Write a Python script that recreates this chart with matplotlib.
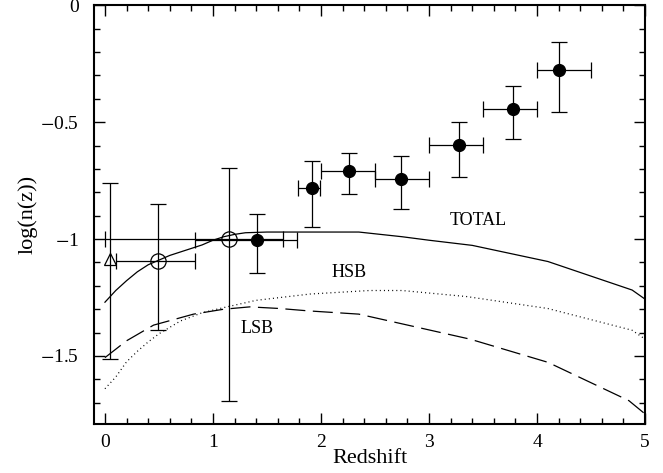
import numpy as np
import matplotlib
matplotlib.use("Agg")
import matplotlib.pyplot as plt

plt.rcParams['font.family'] = ['Liberation Serif', 'DejaVu Serif']
plt.rcParams['mathtext.fontset'] = 'stix'

# model curves
z_total = [0.0, 0.1, 0.2, 0.3, 0.4, 0.5, 0.6, 0.7, 0.8, 0.9, 1.0, 1.1, 1.2, 1.3, 1.5,
           2.0, 2.35, 2.75, 3.0, 3.4, 4.1, 4.88, 5.0]
n_total = [-1.27, -1.22, -1.178, -1.14, -1.11, -1.09, -1.07, -1.055, -1.04, -1.025, -1.005,
           -0.99, -0.98, -0.973, -0.97, -0.97, -0.97, -0.99, -1.005, -1.027, -1.096, -1.218, -1.257]

z_hsb = [0.0, 0.1, 0.2, 0.3, 0.4, 0.5, 0.7, 0.9, 1.1, 1.4, 1.9, 2.45, 2.75, 3.35, 4.1, 4.88, 5.0]
n_hsb = [-1.64, -1.59, -1.525, -1.48, -1.44, -1.405, -1.35, -1.315, -1.293, -1.262, -1.235,
         -1.22, -1.22, -1.246, -1.297, -1.39, -1.428]

z_lsb = [0.0, 0.2, 0.45, 0.82, 1.1, 1.34, 1.62, 1.88, 2.35, 3.38, 4.1, 4.85, 5.0]
n_lsb = [-1.507, -1.435, -1.368, -1.321, -1.30, -1.29, -1.297, -1.307, -1.321, -1.428,
         -1.527, -1.691, -1.748]

# high-z points (filled)
z_hi = [1.41, 1.92, 2.26, 2.74, 3.28, 3.78, 4.20]
n_hi = [-1.005, -0.782, -0.711, -0.742, -0.599, -0.445, -0.279]
n_hi_up = [-0.893, -0.666, -0.630, -0.644, -0.498, -0.347, -0.157]
n_hi_lo = [-1.147, -0.949, -0.809, -0.872, -0.733, -0.573, -0.455]
z_hi_lo = [0.83, 1.79, 2.0, 2.5, 3.0, 3.5, 4.0]
z_hi_up = [1.78, 1.99, 2.5, 3.0, 3.5, 4.0, 4.5]

# low-z points (open circles)
z_lo = [0.49, 1.15]
n_lo = [-1.093, -1.0]
n_lo_up = [-0.85, -0.694]
n_lo_lo = [-1.388, -1.691]
z_lo_lo = [0.105, 0.0]
z_lo_up = [0.83, 1.65]

# local point (open triangle)
z_loc = [0.05]
n_loc = [-1.085]
n_loc_up = [-0.762]
n_loc_lo = [-1.513]

fig = plt.figure(figsize=(6.63, 4.73), dpi=100)
ax = fig.add_axes([0.142, 0.104, 0.831, 0.885])

ax.plot(z_total, n_total, color='black', lw=0.9)
ax.plot(z_hsb, n_hsb, color='black', lw=0.9, linestyle=(0, (0.8, 2.5)))
ax.plot(z_lsb, n_lsb, color='black', lw=0.9, linestyle=(0, (16, 6)))

def err(c, lo, up):
    c, lo, up = np.array(c), np.array(lo), np.array(up)
    return [c - lo, up - c]

ax.errorbar(z_hi, n_hi, xerr=err(z_hi, z_hi_lo, z_hi_up), yerr=err(n_hi, n_hi_lo, n_hi_up),
            fmt='o', color='black', ms=8.5, elinewidth=0.9, capsize=6, capthick=0.9)
ax.errorbar(z_lo, n_lo, xerr=err(z_lo, z_lo_lo, z_lo_up), yerr=err(n_lo, n_lo_lo, n_lo_up),
            fmt='o', mfc='none', mec='black', mew=0.9, color='black', ms=11,
            elinewidth=0.9, capsize=6, capthick=0.9)
ax.errorbar(z_loc, n_loc, yerr=err(n_loc, n_loc_lo, n_loc_up),
            fmt='^', mfc='none', mec='black', mew=0.9, color='black', ms=9,
            elinewidth=0.9, capsize=6, capthick=0.9)

ax.text(3.46, -0.92, 'TOTAL', fontsize=13, ha='center', va='center')
ax.text(2.26, -1.143, 'HSB', fontsize=13, ha='center', va='center')
ax.text(1.41, -1.381, 'LSB', fontsize=13, ha='center', va='center')

ax.set_xlim(-0.1, 5)
ax.set_ylim(-1.79, 0)
ax.set_xticks([0, 1, 2, 3, 4, 5])
ax.set_xticks(np.arange(0, 5.01, 0.2), minor=True)
ax.set_yticks([0, -0.5, -1, -1.5])
ax.set_yticklabels(['0', r'$-$0.5', r'$-$1', r'$-$1.5'])
ax.set_yticks(np.arange(-1.7, 0.01, 0.1), minor=True)
ax.tick_params(which='both', direction='in', top=True, right=True, labelsize=14, width=1)
ax.tick_params(which='major', length=8)
ax.tick_params(which='minor', length=4)
ax.tick_params(axis='x', which='major', pad=7)
ax.tick_params(axis='y', which='major', pad=11)
for s in ax.spines.values():
    s.set_linewidth(1.5)

ax.set_xlabel('Redshift', fontsize=16, labelpad=-1)
ax.set_ylabel('log(n(z))', fontsize=16, labelpad=2)

fig.savefig('out.png', dpi=100)
